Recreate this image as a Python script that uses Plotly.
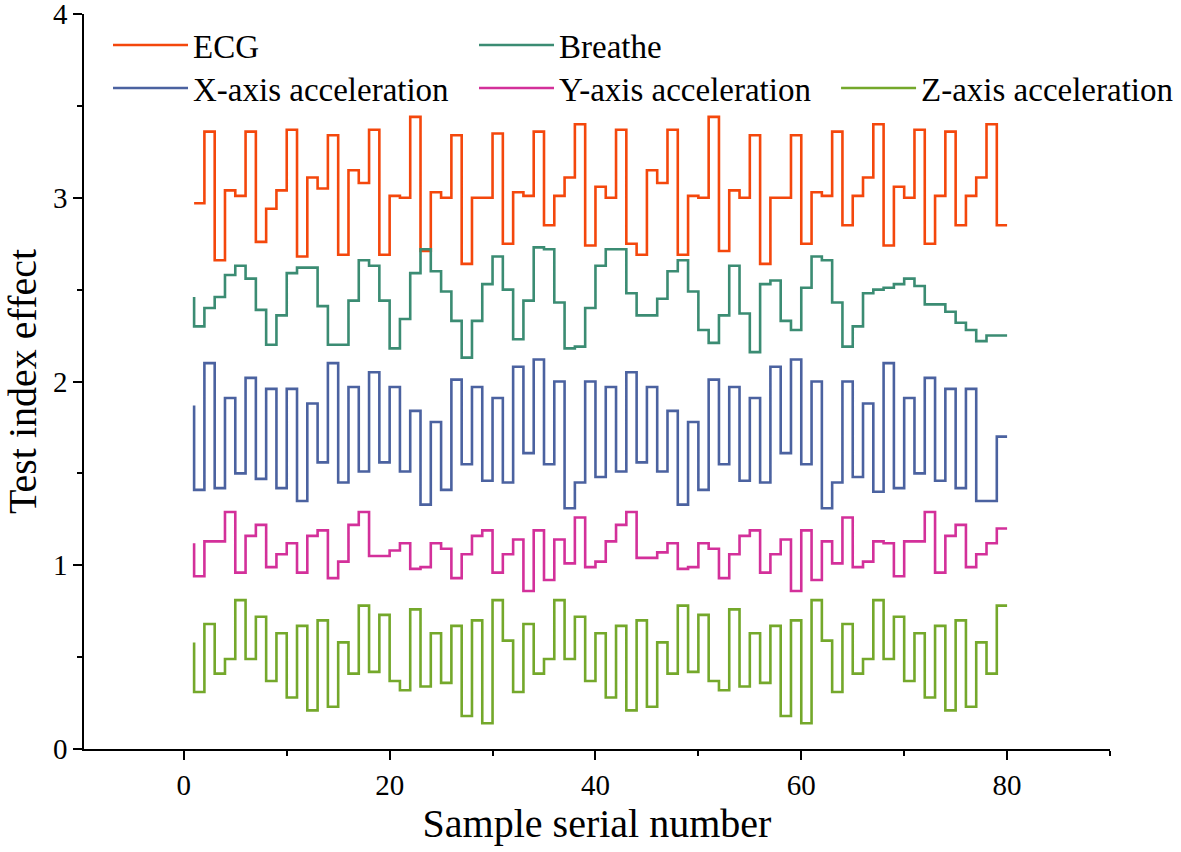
import plotly.graph_objects as go

samples = list(range(1, 81))

ecg = [2.97, 2.97, 3.36, 2.66, 3.04, 3.01, 3.36, 2.76, 2.94, 3.04,
       3.37, 2.68, 3.11, 3.05, 3.34, 2.69, 3.15, 3.08, 3.37, 2.69,
       3.01, 3.00, 3.44, 2.71, 3.03, 3.00, 3.34, 2.64, 3.00, 3.00,
       3.35, 2.75, 3.03, 3.01, 3.36, 2.85, 3.01, 3.11, 3.40, 2.74,
       3.06, 3.00, 3.37, 2.75, 2.69, 3.15, 3.08, 3.37, 2.69, 3.01,
       3.00, 3.44, 2.71, 3.04, 3.00, 3.34, 2.64, 3.00, 3.00, 3.34,
       2.75, 3.03, 3.01, 3.36, 2.85, 3.01, 3.11, 3.40, 2.74, 3.06,
       3.00, 3.37, 2.75, 3.01, 3.36, 2.85, 3.01, 3.11, 3.40, 2.85]

breathe = [2.46, 2.30, 2.40, 2.46, 2.58, 2.63, 2.56, 2.39, 2.20, 2.36,
           2.59, 2.62, 2.62, 2.41, 2.20, 2.20, 2.44, 2.66, 2.63, 2.44,
           2.18, 2.34, 2.59, 2.72, 2.60, 2.49, 2.33, 2.13, 2.33, 2.53,
           2.68, 2.50, 2.23, 2.44, 2.73, 2.72, 2.43, 2.18, 2.19, 2.40,
           2.63, 2.72, 2.72, 2.48, 2.36, 2.36, 2.45, 2.60, 2.66, 2.49,
           2.28, 2.21, 2.36, 2.63, 2.37, 2.16, 2.53, 2.55, 2.33, 2.28,
           2.51, 2.68, 2.66, 2.43, 2.19, 2.30, 2.48, 2.50, 2.51, 2.53,
           2.56, 2.52, 2.42, 2.42, 2.38, 2.32, 2.28, 2.22, 2.25, 2.25]

x_acc = [1.87, 1.41, 2.10, 1.42, 1.91, 1.50, 2.02, 1.47, 1.96, 1.42,
         1.96, 1.35, 1.88, 1.56, 2.10, 1.45, 1.97, 1.51, 2.05, 1.56,
         1.97, 1.51, 1.84, 1.33, 1.78, 1.41, 2.01, 1.55, 1.97, 1.46,
         1.91, 1.45, 2.08, 1.61, 2.12, 1.55, 2.00, 1.31, 1.45, 2.00,
         1.48, 1.97, 1.51, 2.05, 1.56, 1.97, 1.51, 1.84, 1.33, 1.78,
         1.41, 2.01, 1.55, 1.97, 1.46, 1.91, 1.45, 2.08, 1.61, 2.12,
         1.55, 2.00, 1.31, 1.45, 2.00, 1.48, 1.88, 1.40, 2.10, 1.42,
         1.91, 1.50, 2.02, 1.46, 1.96, 1.42, 1.96, 1.35, 1.35, 1.70]

y_acc = [1.12, 0.94, 1.13, 1.13, 1.29, 0.96, 1.16, 1.22, 0.99, 1.06,
         1.12, 0.96, 1.16, 1.19, 0.93, 1.02, 1.22, 1.29, 1.05, 1.05,
         1.08, 1.12, 0.98, 0.99, 1.12, 1.09, 0.93, 1.06, 1.16, 1.19,
         0.96, 1.06, 1.14, 0.86, 1.19, 0.92, 1.14, 1.01, 1.26, 0.99,
         1.02, 1.13, 1.22, 1.29, 1.04, 1.04, 1.07, 1.12, 0.98, 0.99,
         1.12, 1.09, 0.93, 1.06, 1.16, 1.19, 0.96, 1.06, 1.14, 0.86,
         1.19, 0.92, 1.13, 1.01, 1.26, 0.99, 1.02, 1.13, 1.12, 0.94,
         1.13, 1.13, 1.29, 0.96, 1.16, 1.22, 0.99, 1.06, 1.12, 1.20]

z_acc = [0.58, 0.31, 0.68, 0.41, 0.49, 0.81, 0.49, 0.72, 0.37, 0.63,
         0.28, 0.67, 0.21, 0.70, 0.23, 0.58, 0.41, 0.78, 0.42, 0.73,
         0.37, 0.32, 0.76, 0.34, 0.63, 0.36, 0.67, 0.18, 0.70, 0.14,
         0.81, 0.59, 0.31, 0.68, 0.41, 0.49, 0.81, 0.49, 0.72, 0.37,
         0.63, 0.28, 0.67, 0.21, 0.70, 0.23, 0.58, 0.41, 0.78, 0.42,
         0.73, 0.37, 0.32, 0.76, 0.34, 0.63, 0.36, 0.67, 0.18, 0.70,
         0.14, 0.81, 0.59, 0.31, 0.68, 0.41, 0.49, 0.81, 0.49, 0.72,
         0.37, 0.63, 0.28, 0.67, 0.21, 0.70, 0.23, 0.58, 0.41, 0.78]

x_tick_vals = [0, 20, 40, 60, 80]
y_tick_vals = [0, 1, 2, 3, 4]

series_names = ["ECG", "Breathe", "X-axis acceleration", "Y-axis acceleration", "Z-axis acceleration"]
series_values = [ecg, breathe, x_acc, y_acc, z_acc]
series_colors = ["#F4470C", "#3B8C73", "#4B62A0", "#D3309A", "#74A82B"]
series_legends = ["legend", "legend", "legend2", "legend2", "legend3"]

FONT = "Liberation Serif, Times New Roman, serif"

fig = go.Figure()
for name, vals, col, lg in zip(series_names, series_values, series_colors, series_legends):
    fig.add_trace(go.Scatter(
        x=samples, y=vals, name=name, mode="lines",
        line=dict(color=col, width=2.6, shape="vh"),
        legend=lg,
    ))

legend_common = dict(
    orientation="h", xanchor="left", yanchor="middle",
    font=dict(family=FONT, size=33, color="black"),
    bgcolor="rgba(0,0,0,0)", entrywidth=276, itemwidth=75,
    tracegroupgap=0,
)

row1_y, row2_y = 0.9577, 0.8993

fig.update_layout(
    width=1181, height=852,
    plot_bgcolor="white", paper_bgcolor="white",
    margin=dict(l=84, r=71, t=14, b=103, autoexpand=False),
    font=dict(family=FONT, size=22, color="black"),
    legend=dict(x=0.0234, y=row1_y, **legend_common),
    legend2=dict(x=0.0234, y=row2_y, **legend_common),
    legend3=dict(x=0.733, y=row2_y, **legend_common),
    xaxis=dict(
        range=[-9.7, 90], tickmode="array", tickvals=x_tick_vals,
        ticks="outside", ticklen=9, tickwidth=1.5, tickcolor="black",
        showline=True, linecolor="black", linewidth=1.5, showgrid=False, zeroline=False,
        automargin=False, ticklabeloverflow="allow",
        minor=dict(tickvals=[-10, 10, 30, 50, 70, 90], ticks="outside", ticklen=5, tickwidth=1.5, tickcolor="black"),
        tickfont=dict(family=FONT, size=29, color="black"),
        title=dict(text="Sample serial number", font=dict(family=FONT, size=40, color="black"), standoff=8),
    ),
    yaxis=dict(
        range=[0, 4], tickmode="array", tickvals=y_tick_vals,
        ticks="outside", ticklen=9, tickwidth=1.5, tickcolor="black",
        showline=True, linecolor="black", linewidth=1.5, showgrid=False, zeroline=False,
        automargin=False, ticklabeloverflow="allow",
        minor=dict(tickvals=[0.5, 1.5, 2.5, 3.5], ticks="outside", ticklen=5, tickwidth=1.5, tickcolor="black"),
        tickfont=dict(family=FONT, size=29, color="black"),
        title=dict(text="Test index effect", font=dict(family=FONT, size=40, color="black"), standoff=16),
    ),
)

fig.write_html("out.html", config={"displayModeBar": False},
               post_script="document.body.style.margin='0';")
